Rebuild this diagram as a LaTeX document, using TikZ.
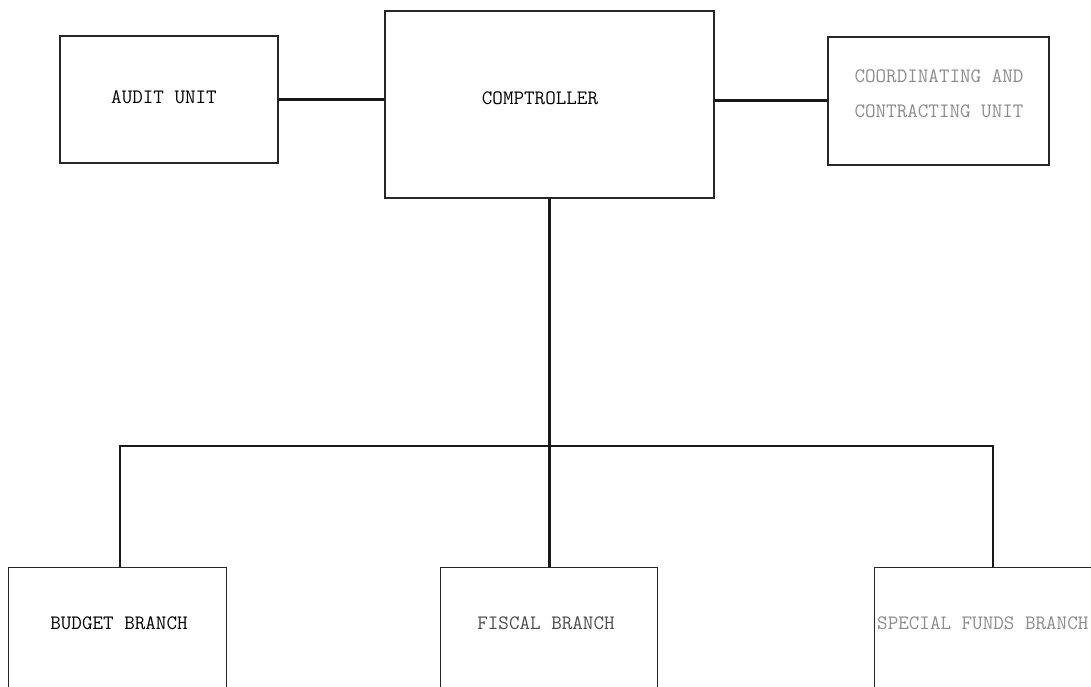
\documentclass[tikz,border=0pt]{standalone}
\usepackage{fontspec}
\begin{document}
\begin{tikzpicture}[x=1pt,y=-1pt,
  box/.style={draw=black!85,line width=1.3pt,rectangle,inner sep=0pt},
  lbl/.style={font=\ttfamily\fontsize{20.5}{24}\selectfont,inner sep=0pt,anchor=base},
  faint/.style={text=black!45},
  conn/.style={line width=3pt,black!90},
  connv/.style={line width=2.2pt,black!90}]
\useasboundingbox (0,0) rectangle (1091,687);
\begin{scope}
\clip (0,0) rectangle (1091,687);
% boxes
\node[box,minimum width=218pt,minimum height=127pt] (audit) at (169,99.5) {};
\node[box,minimum width=329pt,minimum height=187pt] (comp) at (549.5,104.5) {};
\node[box,minimum width=221pt,minimum height=128pt] (coord) at (938.5,101) {};
\node[box,minimum width=218pt,minimum height=140pt,anchor=north west] (budget) at (8,567) {};
\node[box,minimum width=217pt,minimum height=140pt,anchor=north west] (fiscal) at (440,567) {};
\node[box,minimum width=240pt,minimum height=140pt,anchor=north west] (special) at (874,567) {};
% texts
\node[lbl] (auditt) at (164,104) {AUDIT UNIT};
\node[lbl] (compt) at (540,105) {COMPTROLLER};
\node[lbl,faint] (coordt1) at (939,83) {COORDINATING AND};
\node[lbl,faint] (coordt2) at (939,118) {CONTRACTING UNIT};
\node[lbl] (budgett) at (119,629) {BUDGET BRANCH};
\node[lbl,text=black!70] (fiscalt) at (546,629) {FISCAL BRANCH};
\node[lbl,faint,anchor=base west] (specialt) at (877,629) {SPECIAL FUNDS BRANCH};
% connectors
\coordinate (jl) at (120,446);
\coordinate (jm) at (549.5,446);
\coordinate (jr) at (993,446);
\draw[conn] (audit.east) -- (audit.east -| comp.west);
\draw[conn] (comp.east |- coord.west) -- (coord.west);
\draw[connv] (comp.south) -- (jm);
\draw[connv] (jm) -- (jm |- fiscal.north);
\draw[connv,line join=miter] (budget.north -| jl) -- (jl) -- (jr) -- (special.north -| jr);
\end{scope}
\end{tikzpicture}
\end{document}
